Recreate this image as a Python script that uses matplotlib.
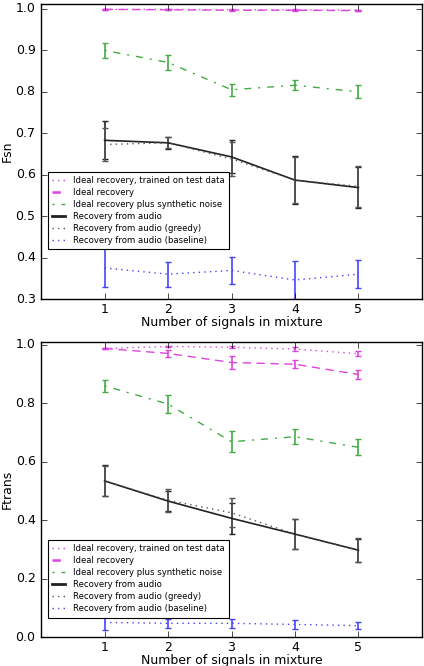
import matplotlib
matplotlib.use("Agg")
import matplotlib.pyplot as plt
from matplotlib.lines import Line2D
import numpy as np

plt.style.use('classic')
plt.rcParams['font.family'] = ['DejaVu Sans']

x = [1, 2, 3, 4, 5]
labels = ["Ideal recovery, trained on test data", "Ideal recovery",
          "Ideal recovery plus synthetic noise", "Recovery from audio",
          "Recovery from audio (greedy)", "Recovery from audio (baseline)"]

# Fsn panel
fsn_test = [0.999, 0.999, 0.998, 0.998, 0.997]
fsn_test_err = [0.001, 0.001, 0.001, 0.001, 0.001]
fsn_ideal = [0.999, 0.998, 0.997, 0.997, 0.996]
fsn_ideal_err = [0.001, 0.001, 0.001, 0.001, 0.001]
fsn_noise = [0.900, 0.871, 0.805, 0.816, 0.800]
fsn_noise_err = [0.019, 0.018, 0.014, 0.012, 0.016]
fsn_audio = [0.683, 0.677, 0.643, 0.587, 0.569]
fsn_audio_err = [0.046, 0.015, 0.040, 0.057, 0.050]
fsn_greedy = [0.673, 0.677, 0.638, 0.587, 0.572]
fsn_greedy_err = [0.040, 0.013, 0.042, 0.056, 0.050]
fsn_base = [0.375, 0.360, 0.369, 0.346, 0.360]
fsn_base_err = [0.047, 0.030, 0.033, 0.045, 0.033]

# Ftrans panel
ftr_test = [0.987, 0.994, 0.991, 0.985, 0.969]
ftr_test_err = [0.002, 0.003, 0.003, 0.006, 0.008]
ftr_ideal = [0.987, 0.970, 0.939, 0.933, 0.898]
ftr_ideal_err = [0.002, 0.011, 0.022, 0.013, 0.015]
ftr_noise = [0.859, 0.797, 0.668, 0.685, 0.649]
ftr_noise_err = [0.020, 0.030, 0.035, 0.026, 0.027]
ftr_audio = [0.534, 0.465, 0.406, 0.352, 0.297]
ftr_audio_err = [0.053, 0.035, 0.054, 0.050, 0.040]
ftr_greedy = [0.534, 0.468, 0.425, 0.352, 0.297]
ftr_greedy_err = [0.050, 0.040, 0.050, 0.050, 0.042]
ftr_base = [0.050, 0.047, 0.047, 0.043, 0.039]
ftr_base_err = [0.026, 0.015, 0.015, 0.015, 0.013]

mag = '#dd44dd'
grn = '#44aa44'
blu = '#4444ff'
styles = [
    dict(color=mag, ls=':', lw=1.0),
    dict(color=mag, ls='--', lw=1.0, dashes=(6, 4)),
    dict(color=grn, ls='-.', lw=1.0, dashes=(1.5, 5, 5, 5)),
    dict(color='#222222', ls='-', lw=1.2),
    dict(color='#555555', ls=':', lw=1.0),
    dict(color=blu, ls=':', lw=1.0),
]

fig = plt.figure(figsize=(4.24, 6.66), dpi=100)
fig.patch.set_facecolor('white')
ax1 = fig.add_axes([0.097, 0.551, 0.898, 0.443])
ax2 = fig.add_axes([0.097, 0.0435, 0.898, 0.4425])

def draw(ax, series, ylim, yticks, ylabel, leg_box):
    handles = []
    for (vals, errs), st, lab in zip(series, styles, labels):
        st2 = dict(st)
        dashes = st2.pop('dashes', None)
        eb = ax.errorbar(x, vals, yerr=errs, capsize=2.5, elinewidth=1.2,
                         ecolor=st2['color'], color=st2['color'],
                         ls=st2['ls'], lw=st2['lw'])
        if dashes is not None:
            eb[0].set_dashes(dashes)
        for c in eb[1]:
            c.set_markeredgewidth(1.0)
        h = Line2D([], [], color=st2['color'], ls=st2['ls'],
                   lw=st2['lw'] + (0.8 if lab in ("Ideal recovery", "Recovery from audio") else 0))
        if dashes is not None:
            h.set_dashes(dashes)
        handles.append(h)
    ax.set_xlim(0, 6)
    ax.set_ylim(*ylim)
    ax.set_xticks(x)
    ax.set_yticks(yticks)
    ax.set_yticklabels(["%.1f" % t for t in yticks])
    ax.tick_params(direction='in', labelsize=9, length=4, top=True, right=True)
    ax.tick_params(axis='x', pad=2.5)
    ax.tick_params(axis='y', pad=4)
    ax.set_xlabel("Number of signals in mixture", fontsize=9)
    ax.xaxis.set_label_coords(0.5, -0.058)
    ax.set_ylabel(ylabel, fontsize=9)
    ax.yaxis.set_label_coords(-0.071, 0.5)
    leg = ax.legend(handles, labels, loc='lower left', bbox_to_anchor=leg_box,
                    fontsize=6.1, handlelength=1.5, borderpad=0.5,
                    labelspacing=0.36, handletextpad=0.95, borderaxespad=0.0,
                    fancybox=False, numpoints=1)
    leg.get_frame().set_edgecolor('black')
    leg.get_frame().set_linewidth(0.8)
    leg.set_zorder(10)

draw(ax1, [(fsn_test, fsn_test_err), (fsn_ideal, fsn_ideal_err),
           (fsn_noise, fsn_noise_err), (fsn_audio, fsn_audio_err),
           (fsn_greedy, fsn_greedy_err), (fsn_base, fsn_base_err)],
     (0.3, 1.012), np.arange(0.3, 1.01, 0.1), "Fsn", (0.018, 0.168))
draw(ax2, [(ftr_test, ftr_test_err), (ftr_ideal, ftr_ideal_err),
           (ftr_noise, ftr_noise_err), (ftr_audio, ftr_audio_err),
           (ftr_greedy, ftr_greedy_err), (ftr_base, ftr_base_err)],
     (0.0, 1.008), np.arange(0.0, 1.01, 0.2), "Ftrans", (0.018, 0.066))

fig.savefig("out.png", dpi=100, facecolor='white')
